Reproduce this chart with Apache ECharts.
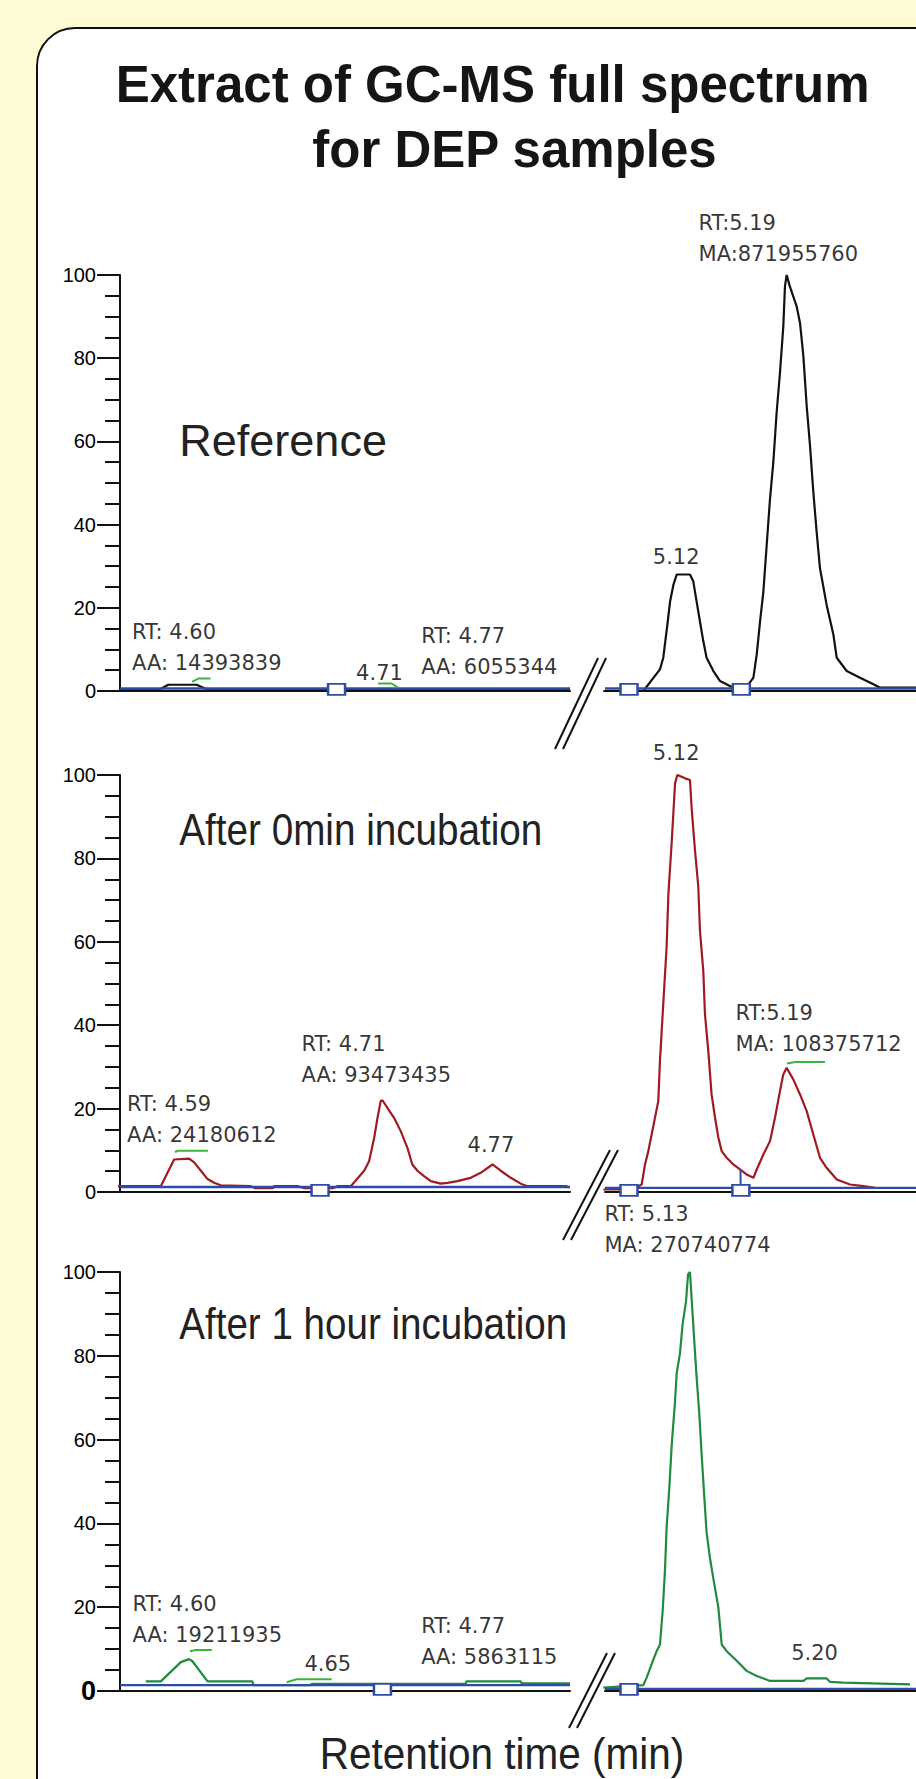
<!DOCTYPE html>
<html><head><meta charset="utf-8">
<script src="https://cdn.jsdelivr.net/npm/echarts/dist/echarts.min.js"></script>
<style>html,body{margin:0;padding:0;background:#FFFBD5;} #c{width:916px;height:1779px;}</style>
</head><body><div id="c"></div>
<script>
// ---------- data ----------
const xLeftRange = [4.555, 4.811];
const xRightRange = [5.07, 5.276];
const yTickValues = [0, 20, 40, 60, 80, 100];
const sampleNames = ['Reference', 'After 0min incubation', 'After 1 hour incubation'];
const titleLines = ['Extract of GC-MS full spectrum', 'for DEP samples'];
const xAxisTitle = 'Retention time (min)';

// chromatogram traces [time (min), relative abundance (%)]
const refLeft = [[4.555,0.4],[4.5778,0.4],[4.5825,1.5],[4.5986,1.5],[4.6043,0.4],[4.811,0.4]];
const refRight = [[5.0689,0],[5.0954,0],[5.1064,5.2],[5.1086,8.0],[5.1113,15.9],[5.1131,21.5],[5.1153,25.5],[5.1175,28.0],[5.1263,28.0],[5.1285,26.3],[5.1307,21.5],[5.1329,16.7],[5.1351,12.0],[5.1373,8.0],[5.1418,4.8],[5.1462,2.4],[5.1550,0.8],[5.1594,0.2],[5.1639,1.0],[5.1683,3.2],[5.1705,8.8],[5.1727,16.7],[5.1749,23.9],[5.1771,35.1],[5.1793,46.2],[5.1815,55.0],[5.1837,67.0],[5.1859,76.5],[5.1881,87.6],[5.1892,97.2],[5.1903,100],[5.1925,97.2],[5.1970,92.4],[5.1992,88.4],[5.2014,80.5],[5.2036,68.5],[5.2058,59.0],[5.2080,47.8],[5.2102,38.2],[5.2124,29.5],[5.2168,20.7],[5.2213,13.5],[5.2235,8.0],[5.2301,4.8],[5.2389,3.2],[5.2478,1.6],[5.2522,0.8],[5.2760,0.8]];
const t0Left = [[4.5536,1.4],[4.5782,1.4],[4.5858,7.8],[4.5943,8.0],[4.5972,7.1],[4.6010,5.1],[4.6048,3.1],[4.6085,2.2],[4.6123,1.6],[4.6294,1.4],[4.6320,0.9],[4.6420,0.9],[4.6427,1.4],[4.6559,1.4],[4.6600,0.9],[4.6760,0.9],[4.6787,1.4],[4.6863,1.4],[4.6939,5.1],[4.6967,7.4],[4.6996,13.0],[4.7015,17.8],[4.7033,21.8],[4.7043,22.0],[4.7071,20.2],[4.7109,17.8],[4.7147,14.6],[4.7185,10.6],[4.7213,6.6],[4.7242,5.1],[4.7280,3.8],[4.7318,2.6],[4.7375,2.0],[4.7413,2.2],[4.7469,2.6],[4.7545,3.4],[4.7602,4.6],[4.7669,6.6],[4.7716,5.1],[4.7773,3.4],[4.7830,2.0],[4.7868,1.4],[4.8095,1.4]];
const t0Right = [[5.0689,0.6],[5.0866,0.6],[5.0921,1.4],[5.0943,1.8],[5.0965,6.6],[5.0987,9.8],[5.1009,13.8],[5.1031,17.8],[5.1053,21.8],[5.1064,31.4],[5.1086,45.1],[5.1108,58.7],[5.1120,71.5],[5.1142,84.0],[5.1164,98.0],[5.1179,100],[5.1208,99.6],[5.1230,99.2],[5.1263,98.8],[5.1274,92.0],[5.1296,82.0],[5.1318,73.2],[5.1329,62.7],[5.1351,53.1],[5.1362,42.7],[5.1384,33.9],[5.1406,23.4],[5.1429,17.8],[5.1451,13.0],[5.1473,9.8],[5.1506,8.2],[5.1550,6.6],[5.1594,5.4],[5.1638,4.2],[5.1683,3.4],[5.1705,5.4],[5.1749,9.0],[5.1793,12.2],[5.1826,17.8],[5.1859,24.2],[5.1881,28.2],[5.1903,29.8],[5.1947,27.0],[5.1992,23.4],[5.2036,19.4],[5.2080,13.8],[5.2124,8.2],[5.2168,5.8],[5.2235,3.0],[5.2323,1.8],[5.2411,1.4],[5.2489,1.0]];
const t1Left = [[4.5697,2.3],[4.5782,2.3],[4.5896,6.9],[4.5943,7.6],[4.5962,7.1],[4.6048,2.3],[4.6303,2.3],[4.6310,1.4],[4.6635,1.4],[4.6640,1.7],[4.7517,1.7],[4.7520,2.3],[4.7830,2.3],[4.7835,1.8],[4.8110,1.8]];
const t1Right = [[5.0689,0.8],[5.0954,1.4],[5.0976,3.2],[5.1009,6.4],[5.1042,9.5],[5.1064,11.1],[5.1082,19.1],[5.1097,28.6],[5.1108,38.9],[5.1126,48.5],[5.1142,58.8],[5.1164,69.2],[5.1175,75.9],[5.1197,80.7],[5.1214,87.5],[5.1237,93.1],[5.1250,99.4],[5.1263,100],[5.1274,93.5],[5.1290,84.3],[5.1307,74.8],[5.1325,66.0],[5.1340,56.5],[5.1356,47.3],[5.1373,37.8],[5.1395,31.8],[5.1417,27.0],[5.1451,19.9],[5.1473,11.1],[5.1506,9.5],[5.1572,7.2],[5.1638,4.8],[5.1705,3.6],[5.1793,2.4],[5.2014,2.4],[5.2036,3.0],[5.2168,3.0],[5.2190,2.2],[5.2279,2.0],[5.2720,1.6]];

// integration baselines (left, right) in %
const refBaseline = [0.6, 0.6];
const t0Baseline = [1.2, 1.0];
const t1Baseline = [1.4, 0.5];

// peak boundary markers (time)
const refBoxesLeft = [4.6782];
const refBoxesRight = [5.0859, 5.1603];
const t0BoxesLeft = [4.6688];
const t0BoxesRight = [5.0859, 5.1600];
const t1BoxesLeft = [4.7043];
const t1BoxesRight = [5.0859];
const t0SplitLine = [[5.1598, 1.0], [5.1598, 5.3]];

// apex markers
const refApexLeft = [[[4.5960,2.2],[4.5995,3.0],[4.6065,3.0]], [[4.7018,1.8],[4.7095,1.8],[4.7131,0.8]]];
const t0ApexLeft = [[[4.5863,9.6],[4.5880,9.9],[4.6050,9.9]]];
const t0ApexRight = [[[5.1906,30.8],[5.1960,31.2],[5.2157,31.2]]];
const t1ApexLeft = [[[4.5948,9.5],[4.5980,9.8],[4.6072,9.8]], [[4.6498,2.1],[4.6555,2.8],[4.6754,2.8]]];

// peak annotations [time, %, text, align]
const refLabelsLeft = [[4.5621,17.86,'RT: 4.60\nAA: 14393839'],[4.6896,8.05,'4.71'],[4.7266,16.75,'RT: 4.77\nAA: 6055344']];
const refLabelsRight = [[5.1175,35.8,'5.12','center'],[5.1323,116.2,'RT:5.19\nMA:871955760']];
const t0LabelsLeft = [[4.5593,24.82,'RT: 4.59\nAA: 24180612'],[4.6585,38.97,'RT: 4.71\nAA: 93473435'],[4.7530,14.75,'4.77']];
const t0LabelsRight = [[5.1175,108.9,'5.12','center'],[5.1568,46.64,'RT:5.19\nMA: 108375712']];
const t1LabelsLeft = [[4.5624,24.46,'RT: 4.60\nAA: 19211935'],[4.6602,10.14,'4.65'],[4.7266,19.21,'RT: 4.77\nAA: 5863115']];
const t1LabelsRight = [[5.07,117.5,'RT: 5.13\nMA: 270740774'],[5.2091,12.53,'5.20','center']];

// ---------- layout / style ----------
const BLUE = '#2F4BA8', APEX = '#3CB43C';
const rows = [
  {top: 275, h: 416, color: '#111111', trace: [refLeft, refRight], base: refBaseline, boxes: [refBoxesLeft, refBoxesRight], apex: [refApexLeft, []], labels: [refLabelsLeft, refLabelsRight], sub: 440.4, subScale: 1, brk: [598, 658, 555, 749]},
  {top: 775, h: 417, color: '#A01A22', trace: [t0Left, t0Right], base: t0Baseline, boxes: [t0BoxesLeft, t0BoxesRight], apex: [t0ApexLeft, t0ApexRight], labels: [t0LabelsLeft, t0LabelsRight], sub: 829.8, subScale: 0.859, brk: [610, 1150, 563, 1240]},
  {top: 1272, h: 419, color: '#1E8C3C', trace: [t1Left, t1Right], base: t1Baseline, boxes: [t1BoxesLeft, t1BoxesRight], apex: [t1ApexLeft, []], labels: [t1LabelsLeft, t1LabelsRight], sub: 1323.5, subScale: 0.857, brk: [607, 1653, 569, 1728]}
];
const cols = [{left: 120, width: 450, range: xLeftRange}, {left: 605, width: 311, range: xRightRange}];

const grids = [], xAxes = [], yAxes = [], series = [], graphics = [];
graphics.push({type: 'rect', z: -10, shape: {x: 37, y: 28, width: 960, height: 1800, r: 38}, style: {fill: '#ffffff', stroke: '#111', lineWidth: 2}});
graphics.push({type: 'text', x: 492.6, y: 84.6, style: {text: titleLines[0], font: 'bold 51px "Liberation Sans", Arial', fill: '#151515', textAlign: 'center', textVerticalAlign: 'middle'}});
graphics.push({type: 'text', x: 514.5, y: 149.3, style: {text: titleLines[1], font: 'bold 51px "Liberation Sans", Arial', fill: '#151515', textAlign: 'center', textVerticalAlign: 'middle'}});
graphics.push({type: 'text', x: 502, y: 1753, scaleX: 0.9, style: {text: xAxisTitle, font: '45px "Liberation Sans", Arial', fill: '#222', textAlign: 'center', textVerticalAlign: 'middle'}});

rows.forEach((r, ri) => {
  graphics.push({type: 'text', x: 179.3, y: r.sub, scaleX: r.subScale, style: {text: sampleNames[ri], font: '45px "Liberation Sans", Arial', fill: '#222', textAlign: 'left', textVerticalAlign: 'middle'}});
  const b = r.brk;
  [0, 8].forEach(off => graphics.push({type: 'line', z: 10, shape: {x1: b[0] + off, y1: b[1], x2: b[2] + off, y2: b[3]}, style: {stroke: '#111', lineWidth: 2}}));
  cols.forEach((c, ci) => {
    const g = grids.length;
    grids.push({left: c.left, top: r.top, width: c.width, height: r.h, containLabel: false, outerBoundsMode: 'none'});
    xAxes.push({type: 'value', gridIndex: g, min: c.range[0], max: c.range[1], axisLine: {show: true, lineStyle: {color: '#111', width: 2}}, axisTick: {show: false}, axisLabel: {show: false}, splitLine: {show: false}});
    const left = ci === 0;
    yAxes.push({type: 'value', gridIndex: g, min: yTickValues[0], max: yTickValues[yTickValues.length - 1], interval: yTickValues[1] - yTickValues[0], show: left,
      axisLine: {show: true, lineStyle: {color: '#111', width: 2}},
      axisTick: {show: true, length: 23, lineStyle: {color: '#111', width: 2}},
      minorTick: {show: true, splitNumber: 4, length: 15, lineStyle: {color: '#111', width: 2}},
      splitLine: {show: false}, minorSplitLine: {show: false},
      axisLabel: {show: true, margin: 24, color: '#000', fontFamily: '"Liberation Sans", Arial', fontSize: 20,
        formatter: v => (ri === 2 && v === 0) ? '{b|0}' : String(v), rich: {b: {fontWeight: 'bold', fontSize: 27, fontFamily: '"Liberation Sans", Arial', color: '#000'}}}});
    const common = {xAxisIndex: g, yAxisIndex: g, animation: false, silent: true};
    series.push(Object.assign({type: 'line', name: sampleNames[ri], data: r.trace[ci], symbol: 'none', lineStyle: {color: r.color, width: 2.2}, itemStyle: {color: r.color}, z: 2}, common));
    series.push(Object.assign({type: 'line', data: [[c.range[0], r.base[ci]], [c.range[1], r.base[ci]]], symbol: 'none', lineStyle: {color: BLUE, width: 2.4}, z: 3}, common));
    if (ri === 1 && ci === 1) series.push(Object.assign({type: 'line', data: t0SplitLine, symbol: 'none', lineStyle: {color: BLUE, width: 2}, z: 3}, common));
    series.push(Object.assign({type: 'scatter', data: r.boxes[ci].map(t => [t, 0.4]), symbol: 'rect', symbolSize: [17, 11], itemStyle: {color: '#ffffff', opacity: 1, borderColor: BLUE, borderWidth: 2}, z: 4}, common));
    r.apex[ci].forEach(m => series.push(Object.assign({type: 'line', data: m, symbol: 'none', lineStyle: {color: APEX, width: 2}, z: 4}, common)));
    series.push(Object.assign({type: 'scatter', clip: false, symbolSize: 1, itemStyle: {color: 'rgba(0,0,0,0)'},
      data: r.labels[ci].map(l => ({name: l[2], value: [l[0], l[1]], label: {align: l[3] || 'left'}})),
      label: {show: true, position: [0, 0], verticalAlign: 'top', formatter: p => p.name, fontFamily: '"DejaVu Sans", sans-serif', fontSize: 21, lineHeight: 31, color: '#000'}, z: 5}, common));
  });
});

const chart = echarts.init(document.getElementById('c'), null, {renderer: 'svg'});
chart.setOption({backgroundColor: '#FFFBD5', animation: false, grid: grids, xAxis: xAxes, yAxis: yAxes, series: series, graphic: graphics});
</script></body></html>
